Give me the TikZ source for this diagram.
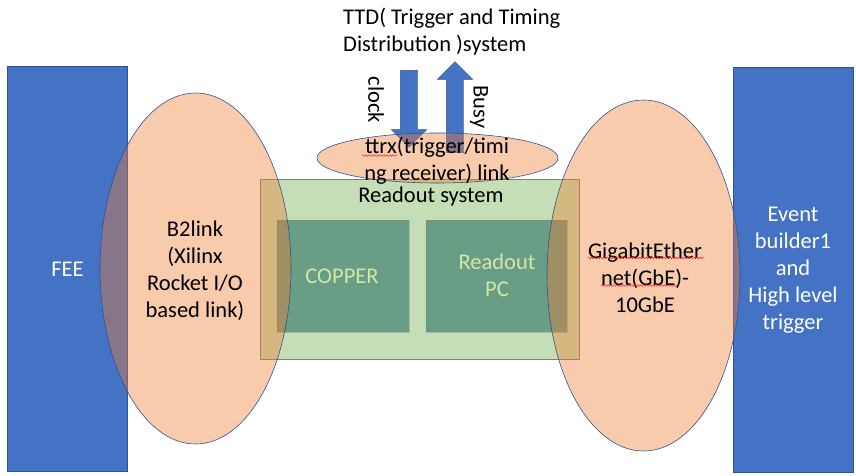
\documentclass[tikz,border=0pt]{standalone}
\usepackage{fontspec}
\setmainfont{Carlito}
\usetikzlibrary{shapes.geometric,shapes.arrows,decorations.pathmorphing}
\definecolor{endblue}{HTML}{4472C4}
\definecolor{edgeblue}{HTML}{2F528F}
\definecolor{linkorange}{HTML}{ED7D31}
\definecolor{rogreen}{HTML}{70AD47}
\definecolor{cardgreen}{HTML}{2D7267}
\definecolor{cardtext}{HTML}{D2E8A8}

\tikzset{
  txt/.style={font=\fontsize{22.5}{27}\selectfont, align=center, inner sep=0pt},
  endbox/.style={draw=edgeblue, fill=endblue, minimum width=120pt, minimum height=405pt, inner sep=0pt},
  linkell/.style={ellipse, draw=edgeblue, line width=0.6pt, fill=linkorange, fill opacity=0.4, inner sep=0pt},
  card/.style={fill=cardgreen, fill opacity=0.6, draw=gray, draw opacity=0.4, inner sep=0pt, minimum height=112pt},
  fatarrow/.style={single arrow, fill=endblue, draw=edgeblue, line width=0.4pt, inner xsep=0pt, inner ysep=8.5pt,
    minimum width=35pt, single arrow head extend=9pt},
  spell/.style={red, line width=0.4pt, decorate, decoration={snake, amplitude=0.8pt, segment length=3pt}}
}

\begin{document}
\begin{tikzpicture}[x=1pt,y=-1pt]
  \useasboundingbox (0,0) rectangle (856,476);

  % end points
  \node[endbox] (fee) at (67.5,269) {};
  \node[endbox] (evb) at (793,269.5) {};

  % readout system
  \node[draw=gray, fill=rogreen, fill opacity=0.4, minimum width=319pt, minimum height=180pt, inner sep=0pt]
    (readout) at (419.5,269) {};
  \node[card, minimum width=132pt] (copper) at (343,276) {};
  \node[card, minimum width=141pt] (pc) at (496.5,276) {};

  % clock / busy
  \node[fatarrow, rotate=-90, minimum height=77pt] (clock) at (409,104.5) {};
  \node[fatarrow, rotate=90, minimum height=91pt] (busy) at (455,111.5) {};

  % links
  \node[linkell, minimum width=191pt, minimum height=351pt] (b2link) at (195.5,268.5) {};
  \node[linkell, minimum width=193pt, minimum height=351pt] (gbe) at (643.5,275.5) {};
  \node[linkell, minimum width=241pt, minimum height=50pt] (ttrx) at (437.5,158) {};

  % texts
  \node[txt, anchor=west, align=left] (ttd) at (343,31.5) {TTD( Trigger and Timing\\Distribution )system};
  \node[txt, rotate=-90] (clocklbl) at (376,100) {clock};
  \node[txt, rotate=-90] (busylbl) at (479,107) {Busy};
  \node[txt] (ttrxlbl) at (437,160.5) {ttrx(trigger/timi\\ng receiver) link};
  \node[txt] (rolbl) at (431,197) {Readout system};
  \node[txt, text=cardtext] (copperlbl) at (342,276) {COPPER};
  \node[txt, text=cardtext] (pclbl) at (497,275.5) {Readout\\PC};
  \node[txt, text=white] (feelbl) at (fee.center) {FEE};
  \node[txt] (b2lbl) at (195,271) {B2link\\(Xilinx\\Rocket I/O\\based link)};
  \node[txt] (gbelbl) at (645,277.5) {GigabitEther\\net(GbE)-\\10GbE};
  \node[txt, text=white] (evblbl) at (793,270) {Event\\builder1\\and\\High level\\trigger};

  % spell marks
  \draw[spell] (362,155.5) -- (397,155.5);
  \draw[spell] (588,258) -- (705,258);
  \draw[spell] (601,285.5) -- (677,285.5);
\end{tikzpicture}
\end{document}
